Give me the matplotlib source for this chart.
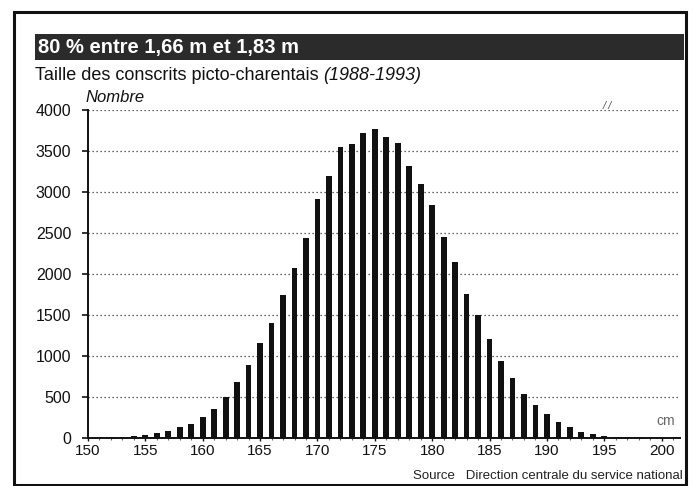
import matplotlib
matplotlib.use("Agg")
import matplotlib.pyplot as plt
from matplotlib.patches import Rectangle
from matplotlib.ticker import MultipleLocator

heights_cm = list(range(151, 200))
counts = [2, 5, 15, 25, 40, 60, 88, 130, 172, 252,
          357, 505, 680, 885, 1155, 1405, 1745, 2070, 2437, 2915,
          3190, 3547, 3585, 3722, 3765, 3668, 3596, 3312, 3096, 2845,
          2449, 2146, 1760, 1495, 1210, 937, 730, 535, 400, 295,
          192, 130, 75, 50, 30, 15, 8, 4, 2]
y_ticks = [0, 500, 1000, 1500, 2000, 2500, 3000, 3500, 4000]
x_ticks = [150, 155, 160, 165, 170, 175, 180, 185, 190, 195, 200]

title = "80 % entre 1,66 m et 1,83 m"
subtitle = "Taille des conscrits picto-charentais "
subtitle_years = "(1988-1993)"
ylabel = "Nombre"
xunit = "cm"
source = "Source   Direction centrale du service national"

plt.rcParams['font.family'] = ['Liberation Sans', 'DejaVu Sans']

W, H = 692, 486
fig = plt.figure(figsize=(W / 100, H / 100), dpi=100)
fig.patch.set_facecolor('white')

def fx(px):
    return px / W

def fy(py):
    return 1 - py / H

# outer frame
fig.patches.append(Rectangle((fx(14), fy(485)), fx(686) - fx(14), fy(12) - fy(485),
                             transform=fig.transFigure, fill=False,
                             edgecolor='#111111', linewidth=2.2, zorder=0))
# title band
fig.patches.append(Rectangle((fx(35), fy(60)), fx(684) - fx(35), fy(34) - fy(60),
                             transform=fig.transFigure, facecolor='#2b2b2b',
                             edgecolor='none', zorder=1))
fig.text(fx(38), fy(47), title, color='white', fontsize=14.5, fontweight='bold',
         va='center', ha='left', zorder=2)

t = fig.text(fx(35), fy(75), subtitle, color='#111111', fontsize=13,
             va='center', ha='left')
fig.canvas.draw()
bb = t.get_window_extent()
fig.text(bb.x1 / W, fy(75), subtitle_years, color='#111111', fontsize=13,
         style='italic', va='center', ha='left')

fig.text(fx(85), fy(97), ylabel, color='#111111', fontsize=12,
         style='italic', va='center', ha='left')

ax = fig.add_axes([fx(88), fy(438), fx(680) - fx(88), fy(110) - fy(438)])
ax.set_facecolor('none')
ax.bar(heights_cm, counts, width=0.5, color='#111111', zorder=3)

ax.set_xlim(150, 201.6)
ax.set_ylim(0, 4000)
ax.set_yticks(y_ticks)
ax.set_yticklabels([str(v) for v in y_ticks])
ax.set_xticks(x_ticks)
ax.set_xticklabels([str(v) for v in x_ticks])
ax.xaxis.set_minor_locator(MultipleLocator(1))

for v in y_ticks[1:]:
    ax.axhline(v, color='#333333', linestyle=(0, (1, 2.2)), linewidth=0.9, zorder=1)

for s in ['top', 'right']:
    ax.spines[s].set_visible(False)
ax.spines['left'].set_linewidth(1.4)
ax.spines['bottom'].set_linewidth(1.4)
ax.spines['left'].set_color('#111111')
ax.spines['bottom'].set_color('#111111')
ax.tick_params(axis='y', direction='out', length=4, width=1.2, labelsize=11.5,
               pad=8, colors='#111111')
ax.tick_params(axis='x', which='major', direction='out', length=2, width=1,
               labelsize=11, pad=2, colors='#111111')
ax.tick_params(axis='x', which='minor', direction='out', length=1.5, width=0.8,
               colors='#666666')

ax.text(201.2, 120, xunit, fontsize=10, color='#666666', ha='right', va='bottom')
fig.text(fx(607), fy(106), "/ /", fontsize=8, color='#555555', style='italic',
         ha='center', va='center')

fig.text(fx(683), fy(476), source, fontsize=9.5, color='#222222',
         ha='right', va='center')

fig.savefig('out.png', dpi=100)
